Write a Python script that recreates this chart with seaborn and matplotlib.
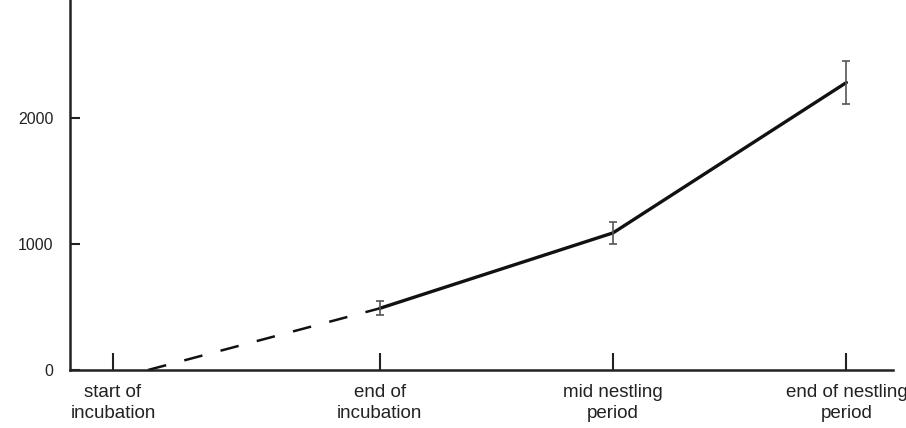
import numpy as np
import pandas as pd
import seaborn as sns
import matplotlib.pyplot as plt

# stages along the breeding cycle (days since start of incubation)
stage_labels = ['start of\nincubation', 'end of\nincubation', 'mid nestling\nperiod', 'end of nestling\nperiod']
stage_days = [0, 16, 30, 44]

# measured values (solid line) with error bars
measured_days = [16, 30, 44]
measured_mean = [490, 1090, 2285]
measured_err = [55, 85, 170]

# extrapolated part (dashed line)
extrap_days = [2.1, 16]
extrap_mean = [0, 490]

y_ticks = [0, 1000, 2000, 3000]

sns.set_theme(style='ticks')
plt.rcParams['font.family'] = ['Liberation Sans', 'DejaVu Sans']

fig = plt.figure(figsize=(9.06, 4.28), dpi=100)
ax = fig.add_axes([0.0773, 0.1355, 0.9084, 0.8818])

solid = pd.DataFrame({'day': measured_days, 'value': measured_mean})
dashed = pd.DataFrame({'day': extrap_days, 'value': extrap_mean})

sns.lineplot(data=dashed, x='day', y='value', ax=ax, color='#111111', lw=1.8,
             linestyle=(0, (7.5, 7.5)))
sns.lineplot(data=solid, x='day', y='value', ax=ax, color='#111111', lw=2.4)
ax.errorbar(measured_days, measured_mean, yerr=measured_err, fmt='none',
            ecolor='#555555', elinewidth=1.2, capsize=3, capthick=1.2)

ax.set_xlim(-2.58, 46.8)
ax.set_ylim(0, 3000)
ax.set_xticks(stage_days)
ax.set_xticklabels(stage_labels, fontsize=13.5, linespacing=1.35)
ax.set_yticks(y_ticks)
ax.set_yticklabels([str(t) for t in y_ticks], fontsize=11.5)
ax.set_xlabel('')
ax.set_ylabel('')

ax.tick_params(axis='x', direction='in', length=12, width=1.5, pad=10, colors='#222222')
ax.tick_params(axis='y', direction='in', length=7, width=1.5, pad=12, colors='#222222')
for s in ['left', 'bottom']:
    ax.spines[s].set_linewidth(1.8)
    ax.spines[s].set_color('#222222')
sns.despine(ax=ax)

fig.savefig('out.png', dpi=100)
